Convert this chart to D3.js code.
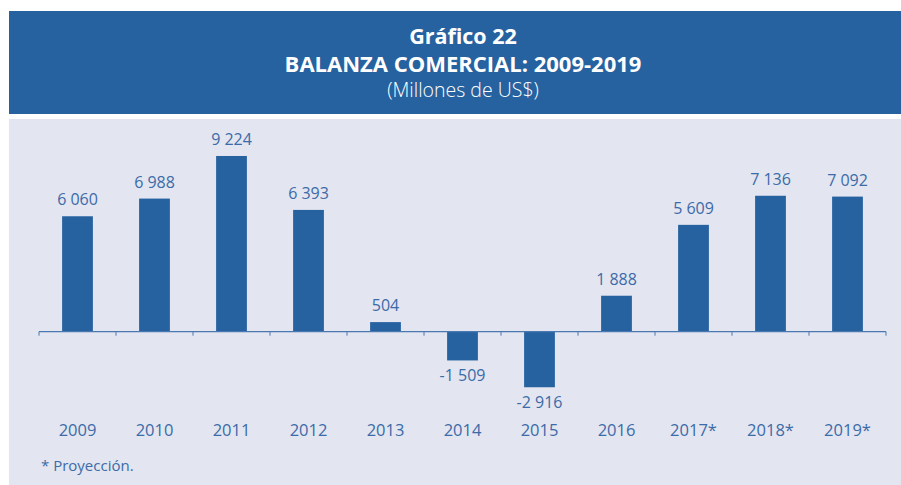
<!DOCTYPE html>
<html>
<head>
<meta charset="utf-8">
<script src="https://cdn.jsdelivr.net/npm/d3@7"></script>
<style>
  body { margin: 0; background: #ffffff; }
  text { font-family: "Open Sans", "Noto Sans", sans-serif; }
</style>
</head>
<body>
<script>
// data
var years = ["2009", "2010", "2011", "2012", "2013", "2014", "2015", "2016", "2017*", "2018*", "2019*"];
var balance = [6060, 6988, 9224, 6393, 504, -1509, -2916, 1888, 5609, 7136, 7092];
var titleLines = ["Gráfico 22", "BALANZA COMERCIAL: 2009-2019", "(Millones de US$)"];
var footnote = "* Proyección.";

var W = 901, H = 485;
var blue = "#2762a0", textBlue = "#3b6ba8";

var svg = d3.select("body").append("svg").attr("width", W).attr("height", H);

// header band
svg.append("rect").attr("x", 9).attr("y", 11).attr("width", W - 9).attr("height", 103).style("fill", blue);
svg.append("text").attr("x", 463).attr("y", 44).attr("text-anchor", "middle")
  .style("fill", "#fff").style("font-weight", 700).style("font-size", "21.5px").text(titleLines[0]);
svg.append("text").attr("x", 463).attr("y", 71.5).attr("text-anchor", "middle")
  .style("fill", "#fff").style("font-weight", 700).style("font-size", "22px").text(titleLines[1]);
svg.append("text").attr("x", 463).attr("y", 97).attr("text-anchor", "middle")
  .style("fill", "#fff").style("font-weight", 300).style("font-size", "19.5px").text(titleLines[2]);

// chart panel
svg.append("rect").attr("x", 9).attr("y", 119).attr("width", W - 9).attr("height", H - 119).style("fill", "#e3e5f0");

var x = d3.scaleBand().domain(years).range([39, 886]).paddingInner(0.6).paddingOuter(0.3);
var y = d3.scaleLinear().domain([-3000, 10000]).range([388.85, 141.2]);

var fmt = d3.formatLocale({decimal: ",", thousands: " ", grouping: [3], currency: ["", ""], minus: "-"}).format(",d");

var data = years.map(function(d, i){ return {year: d, value: balance[i]}; });

svg.selectAll(".bar").data(data).enter().append("rect")
  .attr("class", "bar")
  .attr("x", function(d){ return x(d.year); })
  .attr("width", x.bandwidth())
  .attr("y", function(d){ return y(Math.max(0, d.value)); })
  .attr("height", function(d){ return Math.abs(y(d.value) - y(0)); })
  .style("fill", blue);

// zero axis with ticks at category boundaries
var step = x.step();
var bounds = d3.range(years.length + 1).map(function(i){ return 39 + i * step; });
svg.append("line").attr("x1", 39).attr("x2", 886).attr("y1", y(0)).attr("y2", y(0))
  .style("stroke", "#4a78b0").style("stroke-width", 1.3);
svg.selectAll(".tick").data(bounds).enter().append("line")
  .attr("x1", function(d){ return d; }).attr("x2", function(d){ return d; })
  .attr("y1", y(0)).attr("y2", y(0) + 4)
  .style("stroke", "#4a78b0").style("stroke-width", 1);

// value labels
svg.selectAll(".val").data(data).enter().append("text")
  .attr("x", function(d){ return x(d.year) + x.bandwidth() / 2; })
  .attr("y", function(d){ return d.value >= 0 ? y(d.value) - 11 : y(d.value) + 21; })
  .attr("text-anchor", "middle")
  .style("fill", textBlue).style("font-size", "16px")
  .text(function(d){ return fmt(d.value); });

// category labels
svg.selectAll(".cat").data(years).enter().append("text")
  .attr("x", function(d){ return x(d) + x.bandwidth() / 2; })
  .attr("y", 436)
  .attr("text-anchor", "middle")
  .style("fill", textBlue).style("font-size", "16.5px")
  .text(function(d){ return d; });

svg.append("text").attr("x", 41).attr("y", 471)
  .style("fill", textBlue).style("font-size", "15px").text(footnote);
</script>
</body>
</html>
